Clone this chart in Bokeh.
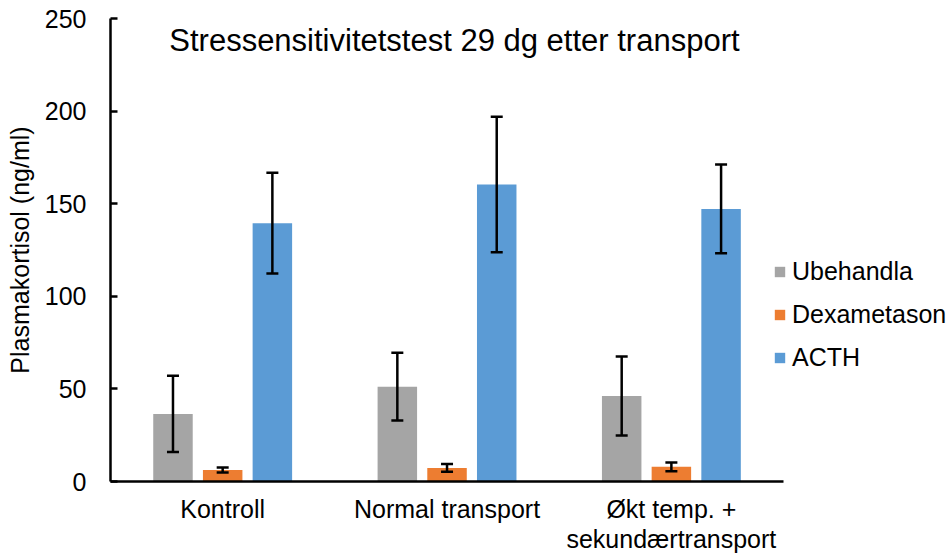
from bokeh.plotting import figure
from bokeh.models import ColumnDataSource, Legend, LegendItem, Label, Range1d, FixedTicker
from bokeh.embed import file_html
from bokeh.resources import INLINE

# ---- data ----
categories = ["Kontroll", "Normal transport", "Økt temp. +\nsekundærtransport"]
series_names = ["Ubehandla", "Dexametason", "ACTH"]
ubehandla = [36.5, 51.2, 46.2]
ubehandla_err = [20.6, 18.3, 21.3]
dexametason = [6.2, 7.3, 7.9]
dexametason_err = [1.3, 2.1, 2.3]
acth = [139.5, 160.4, 147.2]
acth_err = [27.2, 36.6, 24.0]
y_ticks = [0, 50, 100, 150, 200, 250]
title_text = "Stressensitivitetstest 29 dg etter transport"
y_label = "Plasmakortisol (ng/ml)"

colors = ["#A5A5A5", "#ED7D31", "#5B9BD5"]
offsets = [-0.2215, 0.0, 0.2215]
FONT = "Liberation Sans"

n_cat = len(categories)
centers = [i + 0.5 for i in range(n_cat)]

# frame spans to the right edge so the legend (drawn in the frame) is not clipped;
# the category area occupies 0..3, the rest is room for the legend
p = figure(width=952, height=556, output_backend="svg", toolbar_location=None,
           x_range=Range1d(0, 3.753), y_range=Range1d(0, 250),
           min_border_left=110, min_border_right=0, min_border_top=18,
           min_border_bottom=75)
p.outline_line_color = None
p.xgrid.grid_line_color = None
p.ygrid.grid_line_color = None

vals = [ubehandla, dexametason, acth]
errs = [ubehandla_err, dexametason_err, acth_err]
renderers = []
for name, v, e, col, off in zip(series_names, vals, errs, colors, offsets):
    src = ColumnDataSource(dict(x=[c + off for c in centers], val=v,
                                lo=[a - b for a, b in zip(v, e)],
                                hi=[a + b for a, b in zip(v, e)]))
    r = p.vbar(x="x", top="val", width=0.176, source=src,
               fill_color=col, line_color=None)
    renderers.append((name, r))
    p.segment(x0="x", y0="lo", x1="x", y1="hi", source=src,
              line_color="black", line_width=2.5)
    p.scatter(x="x", y="hi", source=src, marker="dash", size=12,
              line_color="black", line_width=2.5)
    p.scatter(x="x", y="lo", source=src, marker="dash", size=12,
              line_color="black", line_width=2.5)

# axes
p.xaxis.ticker = FixedTicker(ticks=centers)
p.xaxis.major_label_overrides = {c: lab for c, lab in zip(centers, categories)}
p.xaxis.bounds = (0, n_cat)
p.xaxis.axis_line_color = "black"
p.xaxis.axis_line_width = 2.5
p.xaxis.major_tick_line_color = None
p.xaxis.minor_tick_line_color = None
p.xaxis.major_label_text_font = FONT
p.xaxis.major_label_text_font_size = "25px"
p.xaxis.major_label_text_color = "black"
p.xaxis.major_label_text_line_height = 1.1
p.xaxis.major_label_standoff = 7

p.yaxis.ticker = y_ticks
p.yaxis.axis_line_color = "black"
p.yaxis.axis_line_width = 2.5
p.yaxis.major_tick_in = 7
p.yaxis.major_tick_out = 0
p.yaxis.major_tick_line_width = 2.5
p.yaxis.major_tick_line_color = "black"
p.yaxis.minor_tick_line_color = None
p.yaxis.major_label_text_font = FONT
p.yaxis.major_label_text_font_size = "25px"
p.yaxis.major_label_text_color = "black"
p.yaxis.major_label_standoff = 24
p.yaxis.axis_label = y_label
p.yaxis.axis_label_text_font = FONT
p.yaxis.axis_label_text_font_size = "25px"
p.yaxis.axis_label_text_font_style = "normal"
p.yaxis.axis_label_text_color = "black"
p.yaxis.axis_label_standoff = 8

# title inside plot area
p.add_layout(Label(x=1.533, y=238.0, text=title_text, text_align="center",
                   text_baseline="alphabetic", text_font=FONT,
                   text_font_size="31px", text_color="black"))

legend = Legend(items=[LegendItem(label=n, renderers=[r]) for n, r in renderers],
                location=(663, 109), glyph_width=13, glyph_height=13,
                label_text_font=FONT, label_text_font_size="25px",
                label_text_color="black", label_standoff=6,
                padding=0, margin=0, spacing=14,
                border_line_color=None, background_fill_alpha=0)
p.add_layout(legend)

open("out.html", "w").write(file_html(p, INLINE))
